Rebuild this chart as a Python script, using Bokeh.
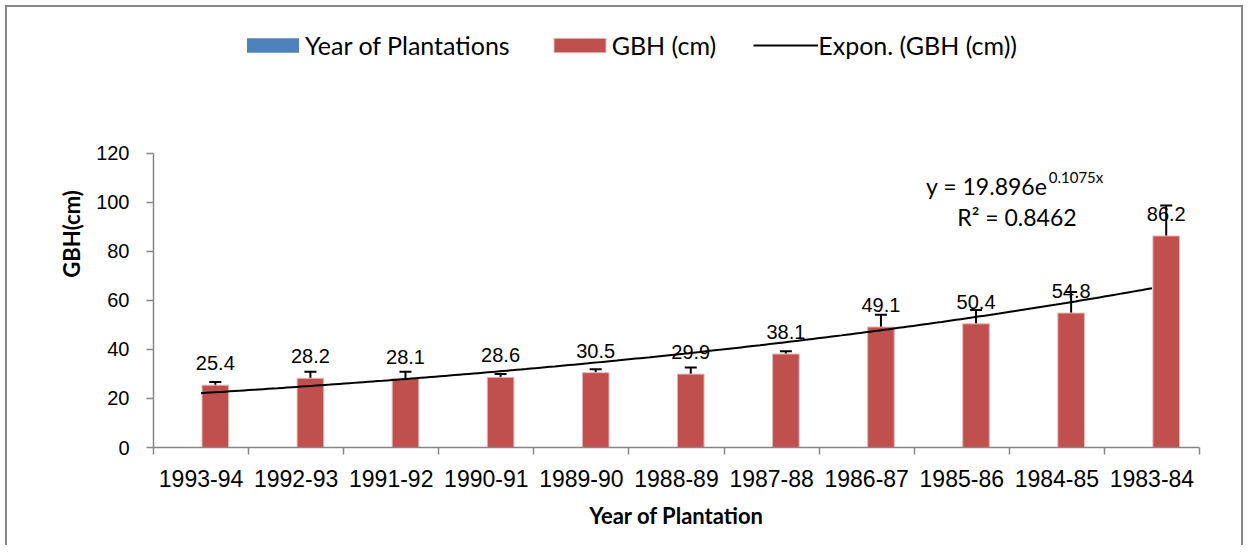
import numpy as np
from bokeh.plotting import figure
from bokeh.models import (ColumnDataSource, FixedTicker, Legend, LegendItem,
                          Whisker, TeeHead, Label, Range1d)
from bokeh.core.properties import value
from bokeh.embed import file_html
from bokeh.resources import INLINE

# ---------------- data ----------------
categories = ["1993-94", "1992-93", "1991-92", "1990-91", "1989-90", "1988-89",
              "1987-88", "1986-87", "1985-86", "1984-85", "1983-84"]
gbh = [25.4, 28.2, 28.1, 28.6, 30.5, 29.9, 38.1, 49.1, 50.4, 54.8, 86.2]
gbh_err = [1.3, 2.7, 2.8, 1.3, 1.4, 2.7, 1.1, 5.0, 5.6, 8.6, 12.4]
year_of_plantations = [0] * 11          # series shown in legend only (no visible bars)
trend_a = 19.896                        # Expon. trendline  y = a * e^(b x)
trend_b = 0.1075
trend_r2 = 0.8462
y_ticks = [0, 20, 40, 60, 80, 100, 120]

# ---------------- styling ----------------
RED = "#C0504D"
BLUE = "#4F81BD"
GRAY = "#868686"
NUM_FONT = "Liberation Sans"
TXT_FONT = "Lato"

n = len(categories)
centers = [i + 0.5 for i in range(n)]
red_x = [c + 0.15 for c in centers]
blue_x = [c - 0.14 for c in centers]

# y range extends above 120 so the legend (chart area) sits inside the frame;
# the axis itself is bounded to 0..120
p = figure(width=1238, height=540, x_range=Range1d(0, n), y_range=Range1d(0, 174),
           output_backend="svg", toolbar_location=None,
           min_border_left=146, min_border_right=46, min_border_top=13,
           min_border_bottom=100)
p.styles = {"margin": "5px 0 0 5px",
            "border-top": f"2px solid {GRAY}",
            "border-left": f"2px solid {GRAY}",
            "border-right": f"2px solid {GRAY}"}
p.grid.visible = False
p.outline_line_color = None
p.background_fill_color = "white"
p.border_fill_color = "white"

src = ColumnDataSource(dict(
    x=red_x, top=gbh,
    upper=[v + e for v, e in zip(gbh, gbh_err)],
    lower=[v - e for v, e in zip(gbh, gbh_err)],
    label=[f"{v:.1f}" for v in gbh],
))
blue_src = ColumnDataSource(dict(x=blue_x, top=year_of_plantations))

r_blue = p.vbar(x="x", top="top", width=0.28, source=blue_src,
                fill_color=BLUE, line_color=None)
r_red = p.vbar(x="x", top="top", width=0.28, source=src,
               fill_color=RED, line_color="#E6B9B8", line_width=1)

# trendline (Excel x = 1..n at category centres)
tx = np.linspace(1, n, 200)
r_trend = p.line(x=tx - 0.5, y=trend_a * np.exp(trend_b * tx),
                 line_color="black", line_width=2)

p.text(x="x", y="top", text="label", source=src, text_align="center",
       text_baseline="middle", y_offset=-22, text_font=value(NUM_FONT),
       text_font_size="20px", text_color="black")

wh = Whisker(base="x", upper="upper", lower="lower", source=src,
             dimension="height", line_color="black", line_width=2,
             upper_head=TeeHead(size=12, line_width=2, line_color="black"),
             lower_head=TeeHead(size=12, line_width=2, line_color="black"))
p.add_layout(wh)

# axes
xa = p.xaxis[0]
xa.ticker = FixedTicker(ticks=centers, minor_ticks=list(range(n + 1)))
xa.major_label_overrides = {c: lab for c, lab in zip(centers, categories)}
xa.major_tick_out = 0
xa.major_tick_in = 0
xa.minor_tick_out = 7
xa.minor_tick_in = 0
xa.minor_tick_line_color = GRAY
xa.minor_tick_line_width = 1.5
xa.axis_line_color = GRAY
xa.axis_line_width = 1.5
xa.major_label_standoff = 15
xa.major_label_text_font = NUM_FONT
xa.major_label_text_font_size = "23px"
xa.major_label_text_color = "black"
xa.axis_label = "Year of Plantation"
xa.axis_label_text_font = TXT_FONT
xa.axis_label_text_font_style = "bold"
xa.axis_label_text_font_size = "22px"
xa.axis_label_text_color = "black"
xa.axis_label_standoff = 12

ya = p.yaxis[0]
ya.ticker = FixedTicker(ticks=y_ticks)
ya.bounds = (0, 120)
ya.major_tick_out = 7
ya.major_tick_in = 0
ya.minor_tick_out = 0
ya.minor_tick_in = 0
ya.major_tick_line_color = GRAY
ya.major_tick_line_width = 1.5
ya.axis_line_color = GRAY
ya.axis_line_width = 1.5
ya.major_label_standoff = 17
ya.major_label_text_font = NUM_FONT
ya.major_label_text_font_size = "20px"
ya.major_label_text_color = "black"
ya.axis_label = "GBH(cm)"
ya.axis_label_text_font = TXT_FONT
ya.axis_label_text_font_style = "bold"
ya.axis_label_text_font_size = "22px"
ya.axis_label_text_color = "black"
ya.axis_label_standoff = 8

# trendline equation
p.add_layout(Label(x=9.40, y=106.7, text=f"y = {trend_a}e", text_align="right",
                   text_baseline="alphabetic", text_font=TXT_FONT,
                   text_font_size="23px", text_color="black"))
p.add_layout(Label(x=9.415, y=110.4, text=f"{trend_b}x", text_align="left",
                   text_baseline="alphabetic", text_font=TXT_FONT,
                   text_font_size="15px", text_color="black"))
p.add_layout(Label(x=9.08, y=93.8, text=f"R\u00b2 = {trend_r2}", text_align="center",
                   text_baseline="alphabetic", text_font=TXT_FONT,
                   text_font_size="23px", text_color="black"))

legend = Legend(items=[
    LegendItem(label="Year of Plantations", renderers=[r_blue]),
    LegendItem(label="GBH (cm)", renderers=[r_red]),
    LegendItem(label="Expon. (GBH (cm))", renderers=[r_trend]),
], orientation="horizontal", location=(87, 387))
legend.border_line_color = None
legend.background_fill_alpha = 0
legend.label_text_font = TXT_FONT
legend.label_text_font_size = "25px"
legend.label_text_color = "black"
legend.glyph_width = 65
legend.glyph_height = 18
legend.label_standoff = 0
legend.spacing = 37
legend.padding = 5
legend.margin = 0
p.add_layout(legend)

open("out.html", "w").write(file_html(p, INLINE))
